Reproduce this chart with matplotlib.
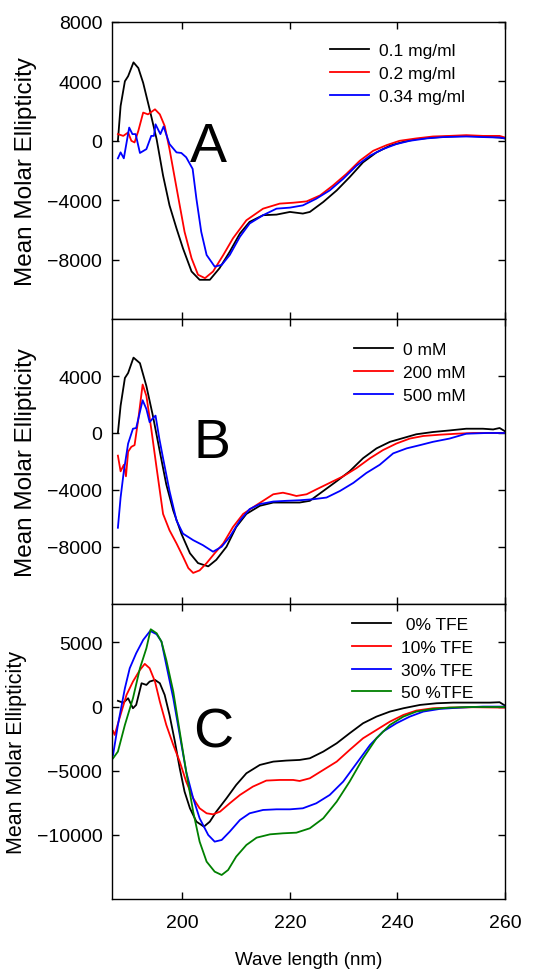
import matplotlib
matplotlib.use('Agg')
import matplotlib.pyplot as plt

plt.rcParams['font.family'] = ['Liberation Sans', 'DejaVu Sans']

# ---- panel A : protein concentration ----
labels_a = ['0.1 mg/ml', '0.2 mg/ml', '0.34 mg/ml']
wl_a1 = [188.0, 188.5, 189.3, 189.9, 190.9, 191.8, 192.7, 193.9, 195.2, 196.4, 197.6, 198.9, 200.1, 201.7,
         203.2, 205.1, 206.9, 208.8, 210.7, 212.5, 215.0, 217.5, 220.0, 222.4, 223.7, 226.2, 228.7, 231.1,
         233.6, 236.1, 238.6, 241.1, 243.5, 246.6, 249.7, 252.8, 255.9, 259.0, 260.0]
mre_a1 = [0, 2340, 4010, 4350, 5280, 4900, 3900, 2120, 110, -2340, -4350, -5900, -7240, -8800,
          -9360, -9360, -8580, -7470, -6240, -5460, -5010, -4970, -4790, -4900, -4790, -4120, -3340, -2450,
          -1450, -780, -330, -70, 110, 220, 290, 330, 290, 220, 160]
wl_a2 = [188.0, 189.0, 189.9, 190.5, 191.1, 191.8, 192.7, 193.6, 194.9, 195.8, 196.7, 197.6, 198.6, 199.5,
         200.4, 201.7, 202.9, 204.2, 205.7, 207.6, 209.4, 211.9, 215.0, 218.1, 220.6, 223.1, 225.6, 228.0,
         230.5, 233.0, 235.5, 238.0, 240.4, 243.5, 246.6, 249.7, 252.8, 255.9, 259.0, 260.0]
mre_a2 = [450, 330, 560, 0, -110, 670, 1900, 1780, 2120, 1780, 1000, -560, -2560, -4350,
          -6130, -7910, -9020, -9250, -8800, -7690, -6570, -5350, -4570, -4230, -4170, -4080, -3680, -3010,
          -2230, -1340, -670, -290, 0, 160, 290, 330, 380, 330, 330, 220]
wl_a3 = [188.0, 188.5, 189.1, 190.1, 190.7, 191.3, 192.1, 193.3, 194.2, 194.7, 195.0, 195.9, 196.5, 197.6,
         198.9, 199.8, 200.7, 201.9, 202.6, 203.5, 204.5, 206.0, 207.3, 208.8, 210.7, 212.5, 215.0, 217.5,
         220.0, 222.4, 224.9, 227.4, 229.9, 232.4, 234.9, 237.3, 239.8, 242.3, 245.4, 248.5, 252.8, 255.9,
         259.0, 260.0]
mre_a3 = [-1180, -780, -1180, 890, 450, 450, -820, -560, 330, 330, 1110, 450, 960, -220,
          -780, -820, -1110, -1890, -3900, -6130, -7690, -8470, -8360, -7690, -6460, -5570, -5010, -4570,
          -4500, -4350, -3900, -3340, -2560, -1670, -1000, -560, -220, 0, 160, 250, 290, 250,
          220, 160]

# ---- panel B : salt ----
labels_b = ['0 mM', '200 mM', '500 mM']
wl_b1 = [188.0, 188.5, 189.3, 189.9, 190.9, 192.1, 193.3, 194.5, 195.8, 197.0, 198.3, 199.8, 201.4, 202.9,
         204.8, 206.3, 208.2, 210.0, 211.9, 214.4, 216.9, 219.3, 221.8, 223.7, 226.2, 228.7, 231.1, 233.6,
         236.1, 238.6, 241.1, 243.5, 246.6, 249.7, 252.8, 255.9, 257.8, 259.0, 260.0]
mre_b1 = [0, 1910, 3860, 4210, 5290, 4900, 3290, 1220, -1310, -3610, -5450, -7060, -8440, -9130,
          -9360, -8900, -7980, -6600, -5680, -5110, -4880, -4880, -4880, -4760, -4070, -3380, -2690, -1770,
          -1080, -620, -350, -90, 70, 180, 300, 300, 250, 350, 120]
wl_b2 = [188.0, 188.5, 189.1, 189.5, 189.9, 190.5, 191.1, 191.8, 192.6, 193.3, 194.2, 195.2, 196.4, 197.6,
         198.9, 200.1, 201.1, 202.0, 203.2, 204.5, 206.0, 207.6, 209.4, 211.3, 213.1, 215.0, 216.9, 218.7,
         220.0, 221.2, 223.1, 224.9, 227.4, 229.9, 232.4, 234.9, 237.3, 239.8, 242.3, 244.8, 247.9, 251.0,
         254.1, 257.8, 260.0]
mre_b2 = [-1590, -2690, -2230, -3040, -1310, -970, -850, 990, 3400, 2600, 300, -2460, -5680, -6830,
          -7750, -8670, -9480, -9820, -9640, -9130, -8440, -7750, -6600, -5680, -5220, -4760, -4300, -4190,
          -4300, -4420, -4300, -3960, -3500, -3040, -2460, -1770, -1200, -740, -390, -210, -120, -50,
          0, 0, 0]
wl_b3 = [188.0, 188.5, 189.1, 189.9, 190.8, 191.4, 192.6, 193.3, 193.9, 194.4, 195.0, 195.7, 196.4, 197.6,
         198.9, 200.1, 202.0, 203.8, 205.7, 207.3, 208.8, 210.7, 212.5, 214.4, 216.9, 219.3, 221.8, 224.3,
         226.8, 229.3, 231.8, 234.2, 236.7, 239.2, 241.7, 244.2, 246.6, 249.7, 252.8, 256.6, 260.0]
mre_b3 = [-6650, -4530, -2690, -740, 300, 350, 2300, 1680, 760, 990, 1220, -390, -1770, -4070,
          -6140, -7060, -7520, -7870, -8330, -7980, -7290, -6140, -5340, -4990, -4810, -4760, -4720, -4650,
          -4530, -4070, -3500, -2810, -2230, -1430, -1080, -850, -620, -390, -50, 0, 0]

# ---- panel C : TFE ----
labels_c = [' 0% TFE', '10% TFE', '30% TFE', '50 %TFE']
wl_c1 = [188.0, 189.0, 189.9, 190.8, 191.4, 192.4, 193.3, 193.9, 194.9, 195.8, 196.7, 197.6, 198.6, 199.5,
         200.4, 201.4, 202.6, 204.0, 205.1, 206.3, 208.2, 210.0, 211.9, 214.4, 216.9, 219.3, 221.8, 223.7,
         226.2, 228.7, 231.1, 233.6, 236.1, 238.6, 241.1, 244.2, 247.3, 250.4, 254.1, 257.2, 259.0, 260.0]
mre_c1 = [450, 300, 650, -130, 130, 1820, 1690, 1950, 2080, 1820, 910, -650, -2730, -4810,
          -6630, -7930, -8970, -9360, -8970, -8190, -7150, -6110, -5200, -4550, -4290, -4210, -4160, -4030,
          -3510, -2860, -2080, -1300, -780, -390, -130, 130, 260, 310, 310, 310, 340, 80]
wl_c2 = [187.1, 187.4, 188.3, 189.6, 190.8, 192.1, 193.0, 193.9, 194.9, 195.8, 197.0, 198.3, 199.5, 200.7,
         202.0, 203.2, 204.5, 205.7, 207.0, 208.8, 210.7, 213.1, 215.6, 218.1, 220.6, 221.8, 223.7, 226.2,
         228.7, 231.1, 233.6, 236.1, 238.6, 241.1, 243.5, 246.6, 249.7, 254.1, 260.0]
mre_c2 = [-1900, -2210, -910, 910, 1950, 2860, 3330, 2990, 1950, 390, -1430, -2990, -4290, -5850,
          -7150, -7930, -8320, -8400, -8190, -7540, -6890, -6240, -5770, -5720, -5720, -5800, -5590, -4940,
          -4290, -3380, -2470, -1820, -1170, -650, -310, -130, -80, -50, -80]
wl_c3 = [187.1, 188.0, 189.3, 190.2, 191.4, 192.7, 194.0, 195.2, 196.1, 197.0, 198.3, 199.5, 200.7, 202.0,
         203.2, 204.8, 206.0, 207.3, 208.8, 210.7, 212.5, 215.0, 217.5, 220.0, 222.4, 224.9, 227.4, 229.9,
         232.4, 234.9, 237.3, 239.8, 242.3, 244.8, 247.9, 251.6, 255.9, 260.0]
mre_c3 = [-3770, -1430, 1430, 2990, 4160, 5200, 5900, 5640, 5070, 3250, 650, -2210, -5070, -7150,
          -8710, -10010, -10530, -10400, -9750, -8840, -8320, -8060, -8010, -8010, -7930, -7540, -6890, -5850,
          -4420, -2990, -1950, -1300, -780, -390, -180, -80, 0, 0]
wl_c4 = [187.1, 188.0, 189.3, 190.8, 192.1, 193.3, 194.1, 195.2, 196.1, 197.0, 198.3, 199.5, 200.7, 202.0,
         203.2, 204.5, 206.0, 207.3, 208.5, 210.0, 211.9, 213.8, 216.3, 218.7, 221.2, 223.7, 226.2, 228.7,
         231.1, 233.6, 236.1, 238.6, 241.1, 243.5, 246.6, 249.7, 254.1, 260.0]
mre_c4 = [-4030, -3510, -1430, 650, 2990, 4550, 6030, 5720, 5070, 3640, 1170, -1950, -5070, -8190,
          -10530, -12090, -12870, -13130, -12740, -11700, -10790, -10220, -9960, -9880, -9830, -9490, -8710, -7410,
          -5850, -4030, -2470, -1430, -780, -390, -180, -80, -30, -30]

fig = plt.figure(figsize=(5.58, 9.7), dpi=100)
L, W = 0.2007, 0.7043
ax_a = fig.add_axes([L, 0.6701, W, 0.3062])
ax_b = fig.add_axes([L, 0.3763, W, 0.2938])
ax_c = fig.add_axes([L, 0.0722, W, 0.3041])

ax_a.plot(wl_a1, mre_a1, color='black', lw=1.3, label=labels_a[0])
ax_a.plot(wl_a2, mre_a2, color='red', lw=1.3, label=labels_a[1])
ax_a.plot(wl_a3, mre_a3, color='blue', lw=1.3, label=labels_a[2])

ax_b.plot(wl_b1, mre_b1, color='black', lw=1.3, label=labels_b[0])
ax_b.plot(wl_b2, mre_b2, color='red', lw=1.3, label=labels_b[1])
ax_b.plot(wl_b3, mre_b3, color='blue', lw=1.3, label=labels_b[2])

ax_c.plot(wl_c1, mre_c1, color='black', lw=1.3, label=labels_c[0])
ax_c.plot(wl_c2, mre_c2, color='red', lw=1.3, label=labels_c[1])
ax_c.plot(wl_c3, mre_c3, color='blue', lw=1.3, label=labels_c[2])
ax_c.plot(wl_c4, mre_c4, color='green', lw=1.3, label=labels_c[3])

ax_a.set_ylim(-12000, 8000)
ax_a.set_yticks([-8000, -4000, 0, 4000, 8000])
ax_b.set_ylim(-12000, 8000)
ax_b.set_yticks([-8000, -4000, 0, 4000])
ax_c.set_ylim(-15000, 8000)
ax_c.set_yticks([-10000, -5000, 0, 5000])

for ax in (ax_a, ax_b, ax_c):
    ax.set_xlim(186.9, 260)
    ax.set_xticks([200, 220, 240, 260])
    ax.tick_params(direction='in', length=5, width=1, top=True, right=True, labelsize=14)
    ax.tick_params(axis='y', pad=7)
    ax.tick_params(axis='x', pad=11)
    for s in ax.spines.values():
        s.set_linewidth(1.0)
ax_a.tick_params(labelbottom=False)
ax_b.tick_params(labelbottom=False)

ax_a.set_ylabel('Mean Molar Ellipticity', fontsize=17.5)
ax_b.set_ylabel('Mean Molar Ellipticity', fontsize=17.5)
ax_c.set_ylabel('Mean Molar Ellipticity', fontsize=15.5)
ax_a.yaxis.set_label_coords(-0.19, 0.5)
ax_b.yaxis.set_label_coords(-0.19, 0.5)
ax_c.yaxis.set_label_coords(-0.215, 0.5)
ax_c.set_xlabel('Wave length (nm)', fontsize=13.5, labelpad=14)

ax_a.text(201.4, -1340, 'A', fontsize=40, ha='left', va='baseline')
ax_b.text(202.0, -1650, 'B', fontsize=40, ha='left', va='baseline')
ax_c.text(201.9, -3120, 'C', fontsize=40, ha='left', va='baseline')

leg_kw = dict(frameon=False, fontsize=12.5, handlelength=2.24, handletextpad=0.57,
              borderpad=0, borderaxespad=0, labelspacing=0.44, loc='upper left')
ax_a.legend(bbox_to_anchor=(0.555, 0.929), **leg_kw)
ax_b.legend(bbox_to_anchor=(0.616, 0.919), **leg_kw)
ax_c.legend(bbox_to_anchor=(0.611, 0.956), **leg_kw)

plt.savefig('out.png', dpi=100)
